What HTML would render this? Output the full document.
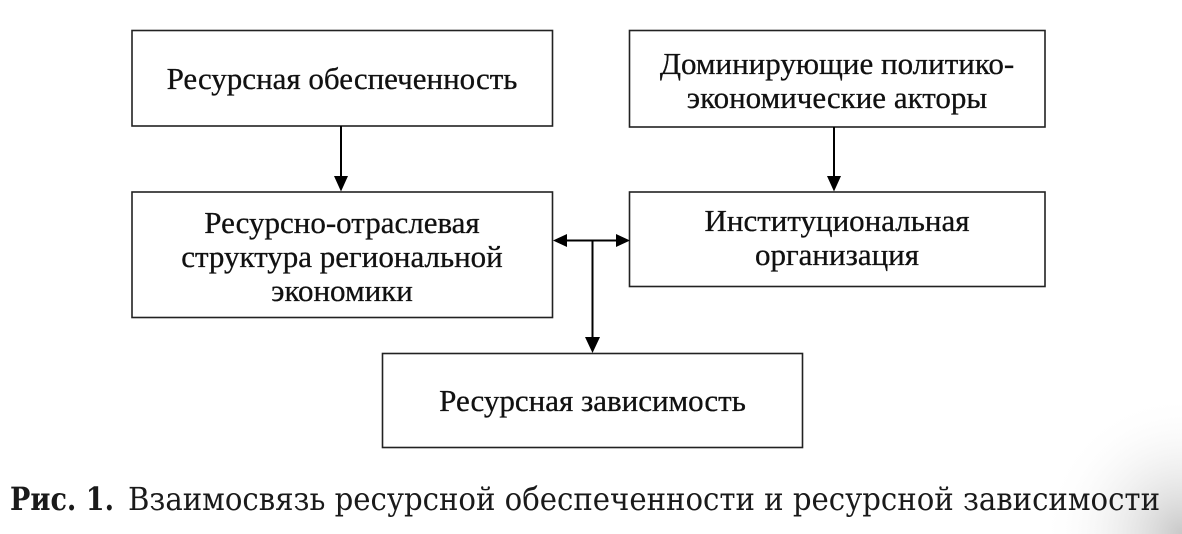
<!DOCTYPE html>
<html>
<head>
<meta charset="utf-8">
<style>
  html, body { margin: 0; padding: 0; background: #fff; }
  body { width: 1182px; height: 534px; overflow: hidden; }
  svg { display: block; }
  .t { font-family: "Liberation Serif", "Noto Serif CJK SC", serif; font-size: 31px; fill: #111; stroke: #111; stroke-width: 0.3; }
  .c { font-family: "DejaVu Serif Condensed", "DejaVu Serif", "Liberation Serif", serif; font-stretch: condensed; font-size: 32px; fill: #1a1a1a; }
</style>
</head>
<body>
<svg width="1182" height="534" viewBox="0 0 1182 534" xmlns="http://www.w3.org/2000/svg">
  <defs>
    <radialGradient id="vig" cx="1182" cy="534" r="140" gradientUnits="userSpaceOnUse">
      <stop offset="0" stop-color="#c8c8c8"/>
      <stop offset="1" stop-color="#ffffff" stop-opacity="0"/>
    </radialGradient>
  </defs>
  <rect width="1182" height="534" fill="#fff"/>
  <rect x="1000" y="400" width="182" height="134" fill="url(#vig)"/>

  <g fill="none" stroke="#222" stroke-width="1.6">
    <rect x="132" y="30.5" width="420.5" height="95.5"/>
    <rect x="132" y="192" width="420.5" height="125.5"/>
    <rect x="629.5" y="30.5" width="415.5" height="96.5"/>
    <rect x="629.5" y="192" width="415.5" height="94.5"/>
    <rect x="382.5" y="353.5" width="420" height="94"/>
  </g>

  <g stroke="#000" stroke-width="2" fill="none">
    <line x1="341" y1="126" x2="341" y2="178"/>
    <line x1="834" y1="127" x2="834" y2="178"/>
    <line x1="555" y1="240.5" x2="628" y2="240.5"/>
    <line x1="592.5" y1="240.5" x2="592.5" y2="339"/>
  </g>
  <g fill="#000">
    <polygon points="334,176 348,176 341,191.5"/>
    <polygon points="827,176 841,176 834,191.5"/>
    <polygon points="553,240.5 567,234 567,247"/>
    <polygon points="630,240.5 616,234 616,247"/>
    <polygon points="585,337 600,337 592.5,353"/>
  </g>

  <g class="t" text-anchor="middle">
    <text x="342" y="89">Ресурсная обеспеченность</text>
    <text x="342" y="233">Ресурсно-отраслевая</text>
    <text x="342" y="267">структура региональной</text>
    <text x="342" y="301">экономики</text>
    <text x="837" y="74">Доминирующие политико-</text>
    <text x="837" y="108">экономические акторы</text>
    <text x="837" y="231">Институциональная</text>
    <text x="837" y="265">организация</text>
    <text x="592.5" y="411">Ресурсная зависимость</text>
  </g>

  <text class="c" x="10" y="510" font-weight="bold" textLength="104" lengthAdjust="spacingAndGlyphs">Рис. 1.</text>
  <text class="c" x="128" y="510" textLength="1032" lengthAdjust="spacingAndGlyphs">Взаимосвязь ресурсной обеспеченности и ресурсной зависимости</text>
</svg>
</body>
</html>
